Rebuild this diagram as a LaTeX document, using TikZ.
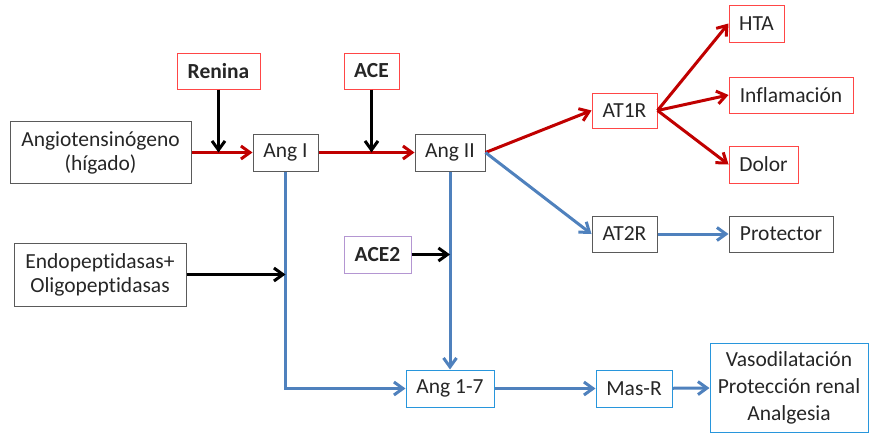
\documentclass[tikz,border=0pt]{standalone}
\usepackage{fontspec}
\setmainfont{Carlito}[Ligatures=NoCommon]
\usepackage{xcolor}
\usetikzlibrary{arrows.meta,positioning}

\definecolor{arrred}{RGB}{192,0,0}
\definecolor{boxred}{RGB}{255,70,70}
\definecolor{arrblue}{RGB}{79,129,189}
\definecolor{boxblue}{RGB}{40,150,220}
\definecolor{boxpurple}{RGB}{180,150,210}
\definecolor{boxgray}{RGB}{90,90,90}

\begin{document}
\begin{tikzpicture}[
  x=1pt, y=-1pt,
  every node/.style={font=\fontsize{21.5}{24}\selectfont, inner sep=0pt, line width=1pt, align=center, text=black!85},
  flowbox/.style={draw=boxgray},
  redbox/.style={draw=boxred},
  bluebox/.style={draw=boxblue},
  enzbox/.style={draw=boxred, font=\fontsize{21.5}{24}\selectfont\bfseries},
  edge/.style={-{Straight Barb[length=9pt,width=13pt]}, line width=3pt},
  redge/.style={edge, arrred},
  bedge/.style={edge, arrblue}
]
\useasboundingbox (0,0) rectangle (869,434);

% main chain
\node[flowbox, minimum width=181pt, minimum height=62pt] (angio) at (100.5,152.5) {Angiotensinógeno\\(hígado)};
\node[flowbox, minimum width=65pt, minimum height=37pt] (ang1) at (285.5,152.5) {Ang I};
\node[flowbox, minimum width=70pt, minimum height=37pt] (ang2) at (450,152.5) {Ang II};
\node[enzbox, minimum width=83pt, minimum height=36pt] (renina) at (218.5,71) {Renina};
\node[enzbox, minimum width=55pt, minimum height=36pt] (ace) at (371.5,71) {ACE};

% AT1R branch
\node[redbox, minimum width=65pt, minimum height=35pt] (at1r) at (624.5,110.5) {AT1R};
\node[redbox, minimum width=55pt, minimum height=37pt] (hta) at (756.5,23.5) {HTA};
\node[redbox, minimum width=124pt, minimum height=36pt] (infl) at (791,95) {Inflamación};
\node[redbox, minimum width=69pt, minimum height=37pt] (dolor) at (763.5,164.5) {Dolor};

% AT2R branch
\node[flowbox, minimum width=65pt, minimum height=36pt] (at2r) at (624.5,234) {AT2R};
\node[flowbox, minimum width=104pt, minimum height=36pt] (prot) at (781,234) {Protector};

% Ang 1-7 branch
\node[flowbox, minimum width=172pt, minimum height=63pt] (endo) at (100,274.5) {Endopeptidasas+\\Oligopeptidasas};
\node[enzbox, draw=boxpurple, minimum width=67pt, minimum height=37pt] (ace2) at (377.5,254.5) {ACE2};
\node[bluebox, minimum width=88pt, minimum height=37pt] (ang17) at (450,388.5) {Ang 1-7};
\node[bluebox, minimum width=76pt, minimum height=37pt] (masr) at (634,388.5) {Mas-R};
\node[bluebox, minimum width=158pt, minimum height=89pt, font=\fontsize{21.5}{27}\selectfont] (vaso) at (789,387.5) {Vasodilatación\\Protección renal\\Analgesia};

\coordinate (jren) at (renina |- angio);
\coordinate (jace) at (ace |- ang1);
\coordinate (jendo) at (ang1 |- endo);
\coordinate (jace2) at (ang2 |- ace2);
\coordinate (bend) at (ang1 |- ang17);

\draw[redge] (angio) -- (ang1);
\draw[redge] (ang1) -- (ang2);
\draw[redge] (ang2.east) -- (at1r.west);
\draw[redge] (at1r.east) -- (hta.west);
\draw[redge] (at1r.east) -- (infl.west);
\draw[redge] (at1r.east) -- (dolor.west);

\draw[bedge] (ang2.east) -- (at2r.west);
\draw[bedge] (at2r) -- (prot);
\draw[bedge] (ang2) -- (ang17);
\draw[bedge] (ang1) -- (bend) -- (ang17);
\draw[bedge] (ang17) -- (masr);
\draw[bedge] (masr) -- (vaso);

\draw[edge] (renina) -- (jren);
\draw[edge] (ace) -- (jace);
\draw[edge] (endo) -- (jendo);
\draw[edge] (ace2) -- (jace2);
\end{tikzpicture}
\end{document}
